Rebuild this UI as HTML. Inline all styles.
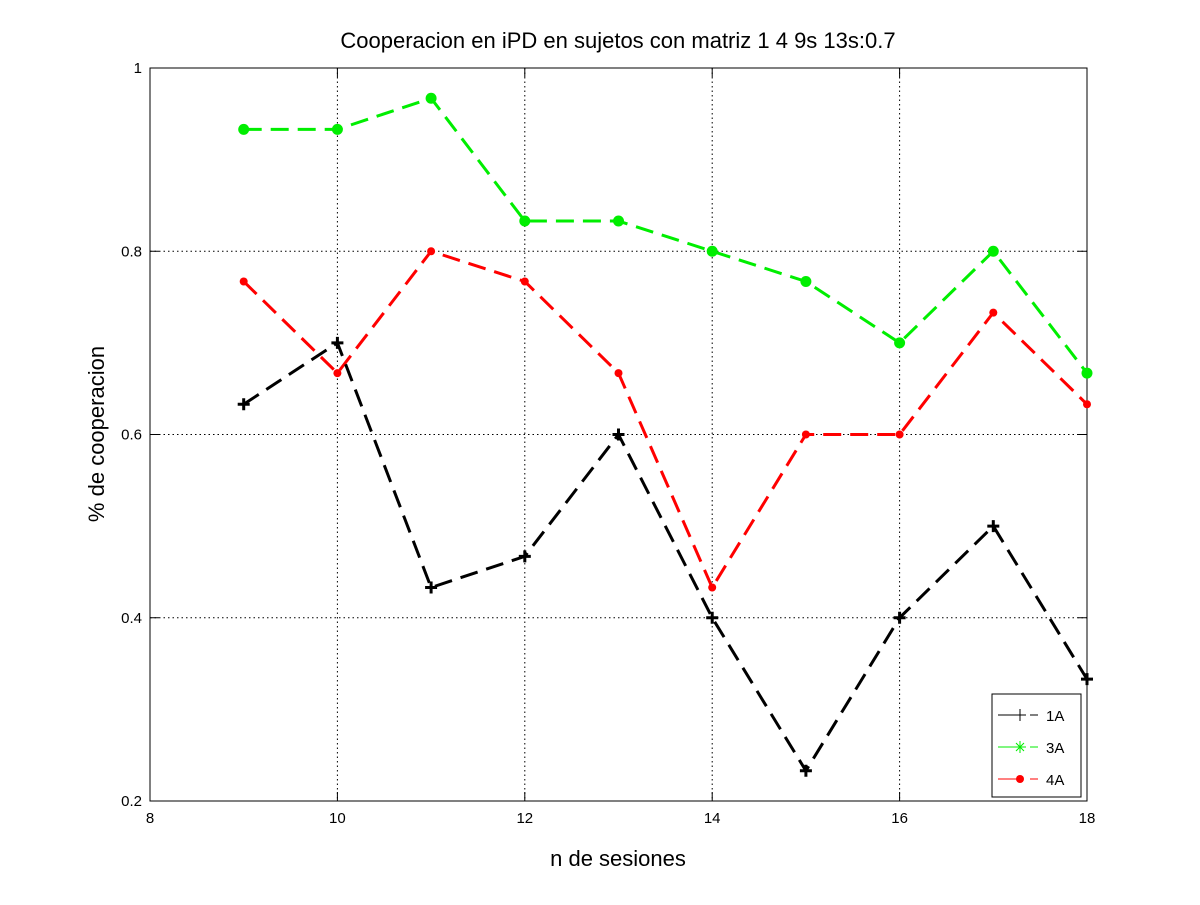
<!DOCTYPE html>
<html><head><meta charset="utf-8"><style>body{margin:0;background:#fff}svg{font-family:"Liberation Sans",sans-serif}</style></head>
<body>
<svg id="c" width="1200" height="900"></svg>
<script>
const sessions=[9,10,11,12,13,14,15,16,17,18];
const s1A=[0.633,0.7,0.433,0.467,0.6,0.4,0.233,0.4,0.5,0.333];
const s3A=[0.933,0.933,0.967,0.833,0.833,0.8,0.767,0.7,0.8,0.667];
const s4A=[0.767,0.667,0.8,0.767,0.667,0.433,0.6,0.6,0.733,0.633];
const xTicks=[8,10,12,14,16,18];
const yTicks=[0.2,0.4,0.6,0.8,1];
const yTickLabels=["0.2","0.4","0.6","0.8","1"];
const L=150,R=1087,T=68,B=801;
const X=v=>L+(v-8)/10*(R-L), Y=v=>B-(v-0.2)/0.8*(B-T);
const svg=document.getElementById('c'),NS='http://www.w3.org/2000/svg';
function mk(t,a,p){const e=document.createElementNS(NS,t);for(const k in a)e.setAttribute(k,a[k]);(p||svg).appendChild(e);return e;}
let e=mk('rect',{x:L,y:T,width:R-L,height:B-T,fill:'#fff',stroke:'none'});


xTicks.forEach(v=>{const x=X(v);
 if(v>8&&v<18){e=mk('line',{x1:x,x2:x,y1:T,y2:B,stroke:'#000','stroke-dasharray':'1.5,3','stroke-width':1});
 }
 mk('line',{x1:x,x2:x,y1:B,y2:B-9,stroke:'#000'});mk('line',{x1:x,x2:x,y1:T,y2:T+9,stroke:'#000'});
 e=mk('text',{x:x,y:B+22,'text-anchor':'middle','font-size':15});e.textContent=v;
 });
yTicks.forEach((v,i)=>{const y=Y(v);
 if(v>0.2&&v<1){e=mk('line',{x1:L,x2:R,y1:y,y2:y,stroke:'#000','stroke-dasharray':'1.5,3','stroke-width':1});
 }
 mk('line',{x1:L,x2:L+9,y1:y,y2:y,stroke:'#000'});mk('line',{x1:R,x2:R-9,y1:y,y2:y,stroke:'#000'});
 e=mk('text',{x:L-8,y:y+5,'text-anchor':'end','font-size':15});e.textContent=yTickLabels[i];
 });
e=mk('rect',{x:L,y:T,width:R-L,height:B-T,fill:'none',stroke:'#000','stroke-width':1});

function series(vals,col,mark,name){
 const g=mk('g',{});
 mk('polyline',{points:vals.map((v,i)=>X(sessions[i])+','+Y(v)).join(' '),fill:'none',stroke:col,'stroke-width':3,'stroke-dasharray':'18,9'},g);
 vals.forEach((v,i)=>{const x=X(sessions[i]),y=Y(v);let m;
  if(mark==='plus'){m=mk('path',{d:`M${x-6},${y}H${x+6}M${x},${y-6}V${y+6}`,stroke:col,'stroke-width':3},g);}
  else m=mk('circle',{cx:x,cy:y,r:mark==='big'?5.5:4,fill:col},g);
  });
}
series(s4A,'#ff0000','small','4A');
series(s1A,'#000','plus','1A');
series(s3A,'#00ee00','big','3A');
// legend
const lg=mk('g',{});
mk('rect',{x:992,y:694,width:89,height:103,fill:'#fff',stroke:'#000'},lg);
[['1A','#000','plus',715],['3A','#00ee00','star',747],['4A','#ff0000','dot',779]].forEach(([n,c,m,y])=>{
 const g=mk('g',{},lg);
 mk('line',{x1:998,x2:1022,y1:y,y2:y,stroke:c,'stroke-width':1},g);mk('line',{x1:1030,x2:1038,y1:y,y2:y,stroke:c},g);
 if(m==='plus')mk('path',{d:`M1014,${y}h12M1020,${y-6}v12`,stroke:c,'stroke-width':1},g);
 else if(m==='star')mk('path',{d:`M1014,${y}h12M1020,${y-6}v12M1016,${y-4}l8,8M1024,${y-4}l-8,8`,stroke:c,'stroke-width':1},g);
 else mk('circle',{cx:1020,cy:y,r:4,fill:c},g);
 const t=mk('text',{x:1046,y:y+6,'font-size':15},g);t.textContent=n;});
e=mk('text',{x:618,y:48,'text-anchor':'middle','font-size':22});e.textContent='Cooperacion en iPD en sujetos con matriz 1 4 9s 13s:0.7';

e=mk('text',{x:618,y:866,'text-anchor':'middle','font-size':22});e.textContent='n de sesiones';

e=mk('text',{x:104,y:434,'text-anchor':'middle','font-size':22,transform:'rotate(-90 104 434)'});e.textContent='% de cooperacion';

</script>
</body></html>
